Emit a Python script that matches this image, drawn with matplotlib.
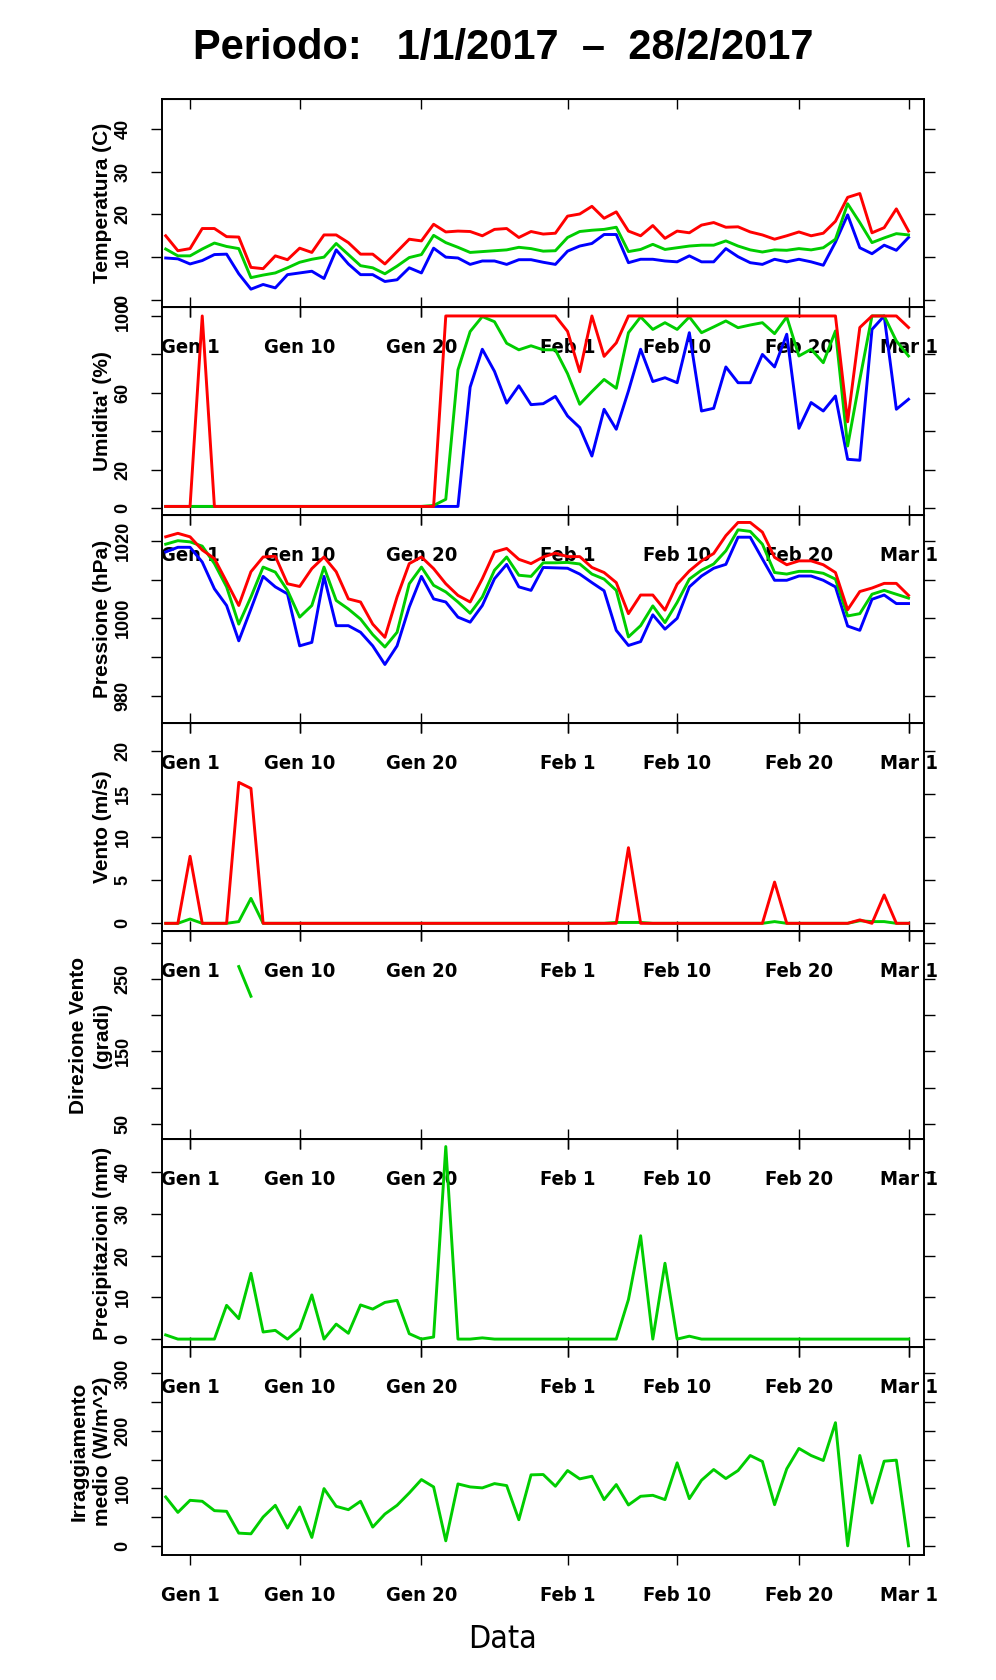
#%% Import
import numpy as np
import pandas as pd
import matplotlib
matplotlib.use('Agg')
import matplotlib.pyplot as plt
import matplotlib.dates as mdates

#%% Dati (giornalieri, 30/12/2016 - 1/3/2017)
giorni = pd.date_range('2016-12-30', '2017-03-01', freq='D')

temp_max = [15.0, 11.5, 12.0, 16.7, 16.7, 14.8, 14.7, 7.6, 7.3, 10.3, 9.4, 12.1, 11.1,
            15.2, 15.2, 13.4, 10.7, 10.7, 8.4, 11.3, 14.2, 13.8, 17.7, 15.9, 16.1, 16.0,
            15.0, 16.5, 16.7, 14.6, 16.0, 15.4, 15.6, 19.6, 20.1, 21.9, 19.1, 20.6, 16.1,
            15.0, 17.4, 14.4, 16.1, 15.7, 17.5, 18.1, 17.0, 17.1, 15.9, 15.2, 14.2, 15.0,
            15.9, 15.0, 15.6, 18.4, 24.0, 24.9, 15.7, 16.9, 21.3, 16.1]
temp_med = [11.9, 10.3, 10.3, 11.9, 13.3, 12.5, 12.0, 5.2, 5.8, 6.3, 7.5, 8.8, 9.5,
            10.0, 13.2, 10.6, 8.0, 7.5, 6.1, 7.9, 9.9, 10.6, 15.1, 13.4, 12.3, 11.1,
            11.3, 11.5, 11.7, 12.3, 12.0, 11.4, 11.5, 14.6, 16.0, 16.3, 16.5, 17.0, 11.3,
            11.8, 13.0, 11.8, 12.2, 12.6, 12.8, 12.8, 13.8, 12.6, 11.7, 11.2, 11.7, 11.6,
            12.0, 11.7, 12.2, 14.2, 22.5, 18.1, 13.4, 14.5, 15.5, 15.2]
temp_min = [9.8, 9.6, 8.4, 9.2, 10.6, 10.7, 6.1, 2.5, 3.6, 2.8, 5.9, 6.3, 6.7,
            5.0, 11.7, 8.4, 5.9, 5.9, 4.3, 4.7, 7.5, 6.3, 12.1, 10.0, 9.8, 8.3,
            9.1, 9.1, 8.3, 9.4, 9.4, 8.8, 8.3, 11.4, 12.6, 13.2, 15.3, 15.3, 8.7,
            9.5, 9.5, 9.1, 8.9, 10.3, 8.9, 8.9, 12.0, 10.1, 8.7, 8.3, 9.5, 8.9,
            9.5, 8.9, 8.1, 13.5, 19.9, 12.2, 10.8, 12.8, 11.6, 14.6]

umid_max = [1, 1, 1, 100, 1, 1, 1, 1, 1, 1, 1, 1, 1, 1, 1, 1, 1, 1, 1, 1, 1, 1, 1,
            100, 100, 100, 100, 100, 100, 100, 100, 100, 100, 92, 71, 100, 79, 86,
            100, 100, 100, 100, 100, 100, 100, 100, 100, 100, 100, 100, 100, 100, 100,
            100, 100, 100, 45, 94, 100, 100, 100, 94]
umid_med = [1, 1, 1, 1, 1, 1, 1, 1, 1, 1, 1, 1, 1, 1, 1, 1, 1, 1, 1, 1, 1, 1, 1.5,
            4.7, 72, 91.9, 99.7, 97, 85.8, 82.4, 84.5, 82.4, 82.4, 70, 54.1, 60.7, 67,
            62.4, 91.3, 99.5, 93, 96.5, 93, 99.5, 91.3, 94.3, 97.4, 93.9, 95.3, 96.5,
            90.8, 99.5, 79.2, 82.7, 75.7, 92.2, 32.4, 67, 100, 100, 87, 79.2]
umid_min = [1, 1, 1, 1, 1, 1, 1, 1, 1, 1, 1, 1, 1, 1, 1, 1, 1, 1, 1, 1, 1, 1, 1,
            1, 1, 63, 82.7, 71.2, 54.7, 63.7, 53.9, 54.4, 58.2, 48, 42, 27.2, 51.5,
            41.1, 61, 82.7, 65.9, 67.9, 65.3, 91.3, 50.6, 52, 73.5, 65.3, 65.3, 80,
            73.5, 90.5, 41.6, 55, 50.6, 58.4, 25.5, 25, 93, 100, 51.5, 56.7]

press_max = [1021.0, 1021.9, 1021.0, 1017.6, 1015.4, 1009.4, 1003.3, 1012.0, 1015.8,
             1016.0, 1008.9, 1008.2, 1012.8, 1015.8, 1012.0, 1005.0, 1004.2, 998.5,
             995.1, 1005.5, 1014.1, 1015.8, 1012.8, 1008.9, 1005.9, 1004.2, 1010.2,
             1017.1, 1018.0, 1015.2, 1014.1, 1015.8, 1016.8, 1015.9, 1015.9, 1013.1,
             1011.8, 1009.2, 1001.2, 1006.0, 1006.0, 1002.1, 1008.8, 1012.2, 1014.8,
             1016.7, 1021.3, 1024.7, 1024.7, 1022.2, 1015.7, 1013.8, 1014.8, 1014.8,
             1013.8, 1011.8, 1002.2, 1006.9, 1007.8, 1009.0, 1009.0, 1005.9]
press_med = [1019.1, 1020.0, 1019.7, 1018.6, 1014.1, 1008.1, 998.5, 1005.5, 1013.2,
             1011.9, 1007.2, 1000.3, 1003.3, 1013.2, 1004.6, 1002.4, 999.8, 995.8,
             992.6, 996.4, 1008.9, 1013.2, 1008.5, 1006.8, 1004.2, 1001.3, 1005.5,
             1012.4, 1015.8, 1011.1, 1010.8, 1014.3, 1014.3, 1014.4, 1014.0, 1011.4,
             1010.1, 1007.2, 995.2, 998.1, 1003.2, 998.9, 1004.1, 1010.1, 1012.4,
             1014.0, 1017.4, 1022.8, 1022.4, 1019.1, 1011.8, 1011.4, 1012.1, 1012.1,
             1011.6, 1010.1, 1000.6, 1001.2, 1006.2, 1007.2, 1006.2, 1005.2]
press_min = [1017.1, 1018.3, 1018.3, 1014.5, 1007.6, 1003.3, 994.2, 1002.4, 1010.8,
             1008.1, 1006.3, 992.9, 993.8, 1010.8, 998.1, 998.1, 996.4, 992.9,
             988.1, 992.9, 1002.9, 1010.8, 1005.0, 1004.2, 1000.3, 999.0, 1003.3,
             1010.2, 1013.9, 1008.1, 1007.2, 1013.1, 1013.0, 1012.9, 1011.4, 1009.2,
             1007.1, 996.9, 993.0, 994.0, 1000.9, 997.2, 1000.0, 1008.1, 1010.9,
             1012.9, 1013.9, 1020.9, 1020.9, 1015.3, 1009.8, 1009.8, 1010.9, 1010.9,
             1009.8, 1008.1, 998.0, 996.9, 1004.9, 1006.0, 1003.8, 1003.8]

vento_max = [0, 0, 7.8, 0, 0, 0, 16.4, 15.7, 0, 0, 0, 0, 0, 0, 0, 0, 0, 0, 0, 0, 0,
             0, 0, 0, 0, 0, 0, 0, 0, 0, 0, 0, 0, 0, 0, 0, 0, 0, 8.8, 0, 0, 0, 0, 0,
             0, 0, 0, 0, 0, 0, 4.8, 0, 0, 0, 0, 0, 0, 0.4, 0, 3.3, 0, 0]
vento_med = [0, 0, 0.5, 0, 0, 0, 0.2, 2.9, 0, 0, 0, 0, 0, 0, 0, 0, 0, 0, 0, 0, 0,
             0, 0, 0, 0, 0, 0, 0, 0, 0, 0, 0, 0, 0, 0, 0, 0, 0.1, 0.1, 0.1, 0, 0, 0, 0,
             0, 0, 0, 0, 0, 0, 0.2, 0, 0, 0, 0, 0, 0, 0.3, 0.2, 0.2, 0, 0]

dir_giorni = ['2017-01-05', '2017-01-06']
dir_med = [267, 226]

pioggia = [1.0, 0, 0, 0, 0, 8.1, 4.9, 15.8, 1.7, 2.1, 0, 2.5, 10.6, 0, 3.6, 1.4,
           8.2, 7.2, 8.8, 9.3, 1.3, 0, 0.5, 46.2, 0, 0, 0.3, 0, 0, 0, 0, 0, 0, 0,
           0, 0, 0, 0, 9.5, 24.8, 0, 18.2, 0, 0.7, 0, 0, 0, 0, 0, 0, 0, 0, 0, 0,
           0, 0, 0, 0, 0, 0, 0, 0]

irragg = [85.0, 58.2, 79.2, 77.5, 61.2, 60.0, 22.1, 20.9, 50.1, 70.5, 30.9, 67.6,
          14.6, 99.6, 68.7, 62.9, 77.5, 32.6, 55.3, 70.5, 92.0, 115.3, 102.5, 8.7,
          107.7, 102.5, 100.8, 108.3, 104.8, 45.4, 123.5, 124.1, 103.7, 131.0, 116.5,
          121.1, 80.4, 106.6, 71.1, 86.2, 87.9, 80.4, 144.4, 82.1, 114.1, 132.8, 117.1,
          131.0, 157.2, 146.8, 71.6, 134.0, 169.5, 157.2, 148.5, 214.3, 0, 157.2, 74.5,
          147.3, 149.1, 0]

tick_date = ['2017-01-01', '2017-01-10', '2017-01-20', '2017-02-01', '2017-02-10',
             '2017-02-20', '2017-03-01']
tick_lab = ['Gen 1', 'Gen 10', 'Gen 20', 'Feb 1', 'Feb 10', 'Feb 20', 'Mar 1']

#%% Stile
ROSSO, VERDE, BLU = '#FF0000', '#00CD00', '#0000FF'
LW = 2.1
F_SANS = ['Liberation Sans', 'DejaVu Sans']

x0 = mdates.date2num(pd.Timestamp('2016-12-30')) - 0.3
x1 = mdates.date2num(pd.Timestamp('2017-03-01')) + 1.27
xt = mdates.date2num(pd.to_datetime(tick_date))

fig = plt.figure(figsize=(9.96, 16.8), dpi=100)
left, width = 0.1627, 0.765
top, h = 0.941, 0.1238

pannelli = [
    dict(ylim=(-1.7, 47.0), yt=[0, 10, 20, 30, 40], yl=['0', '10', '20', '30', '40'],
         lab='Temperatura (C)'),
    dict(ylim=(-3.5, 104.6), yt=[0, 20, 40, 60, 80, 100], yl=['0', '20', '', '60', '', '100'],
         lab="Umidita' (%)"),
    dict(ylim=(973.0, 1026.6), yt=[980, 990, 1000, 1010, 1020], yl=['980', '', '1000', '', '1020'],
         lab='Pressione (hPa)'),
    dict(ylim=(-0.9, 23.3), yt=[0, 5, 10, 15, 20], yl=['0', '5', '10', '15', '20'],
         lab='Vento (m/s)'),
    dict(ylim=(29, 316), yt=[50, 100, 150, 200, 250, 300], yl=['50', '', '150', '', '250', ''],
         lab='Direzione Vento\n(gradi)'),
    dict(ylim=(-1.9, 48.0), yt=[0, 10, 20, 30, 40], yl=['0', '10', '20', '30', '40'],
         lab='Precipitazioni (mm)'),
    dict(ylim=(-16, 346), yt=[0, 50, 100, 150, 200, 250, 300], yl=['0', '', '100', '', '200', '', '300'],
         lab='Irraggiamento\nmedio (W/m^2)'),
]

assi = []
for i, p in enumerate(pannelli):
    ax = fig.add_axes([left, top - (i + 1) * h, width, h])
    ax.set_facecolor('none')
    ax.set_xlim(x0, x1)
    ax.set_ylim(*p['ylim'])
    ax.set_yticks(p['yt'])
    ax.set_yticklabels(p['yl'], rotation=90, va='center', fontsize=13,
                       fontweight='bold', family=F_SANS)
    ax.tick_params(axis='y', which='both', direction='out', length=8, width=1,
                   left=True, right=True, pad=14)
    ax.set_xticks(xt)
    ax.set_xticklabels(tick_lab, fontsize=14.5, fontweight='bold', family='DejaVu Sans',
                       fontstretch='condensed')
    last = (i == len(pannelli) - 1)
    ax.tick_params(axis='x', direction='out' if last else 'inout',
                   length=7 if last else 14, width=1, pad=15,
                   top=False, bottom=True)
    ax.set_ylabel(p['lab'], fontsize=15, fontweight='bold', family=F_SANS,
                  linespacing=1.3)
    ax.yaxis.set_label_coords(-0.066, 0.5)
    for s in ax.spines.values():
        s.set_linewidth(1.4)
    assi.append(ax)

# tacche in alto (verso l'interno)
for ax in assi:
    sec = ax.secondary_xaxis('top')
    sec.set_xticks(xt)
    sec.set_xticklabels([])
    sec.tick_params(direction='in', length=7, width=1)

ax_t, ax_u, ax_p, ax_v, ax_d, ax_r, ax_i = assi

ax_t.plot(giorni, temp_min, color=BLU, lw=LW)
ax_t.plot(giorni, temp_med, color=VERDE, lw=LW)
ax_t.plot(giorni, temp_max, color=ROSSO, lw=LW)

ax_u.plot(giorni, umid_min, color=BLU, lw=LW)
ax_u.plot(giorni, umid_med, color=VERDE, lw=LW)
ax_u.plot(giorni, umid_max, color=ROSSO, lw=LW)

ax_p.plot(giorni, press_min, color=BLU, lw=LW)
ax_p.plot(giorni, press_med, color=VERDE, lw=LW)
ax_p.plot(giorni, press_max, color=ROSSO, lw=LW)

ax_v.plot(giorni, vento_med, color=VERDE, lw=LW)
ax_v.plot(giorni, vento_max, color=ROSSO, lw=LW)

ax_d.plot(pd.to_datetime(dir_giorni), dir_med, color=VERDE, lw=LW)

ax_r.plot(giorni, pioggia, color=VERDE, lw=LW)

ax_i.plot(giorni, irragg, color=VERDE, lw=LW)

for ax in assi:
    ax.set_xlim(x0, x1)

fig.text(0.505, 1 - 48 / 1680, 'Periodo:   1/1/2017  \u2013  28/2/2017', ha='center',
         va='center', fontsize=30, fontweight='bold', family=F_SANS)
fig.text(0.505, 1 - 1639 / 1680, 'Data', ha='center', va='center', fontsize=23,
         family='DejaVu Sans', fontstretch='condensed')

plt.savefig('out.png', dpi=100)
